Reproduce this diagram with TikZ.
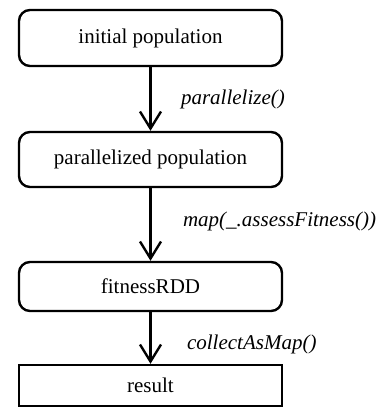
\documentclass[tikz,border=0pt]{standalone}
\usepackage{fontspec}
\setmainfont{Liberation Serif}
\usetikzlibrary{arrows.meta}
\begin{document}
\begin{tikzpicture}[x=1pt,y=-1pt,
  box/.style={draw,line width=2.4pt,minimum width=263pt,inner sep=0pt,font=\fontsize{21}{25}\selectfont},
  rbox/.style={box,rounded corners=11pt},
  flow/.style={line width=2.4pt,-{Straight Barb[length=17pt,width=21pt,line width=2.4pt]}},
  lbl/.style={font=\fontsize{21}{25}\selectfont\itshape,anchor=west}]
\useasboundingbox (0,0) rectangle (386,407);
\node[rbox,minimum height=56pt] (a) at (150.5,38) {initial population};
\node[rbox,minimum height=55pt] (b) at (150.5,159.5) {parallelized population};
\node[rbox,minimum height=49pt] (c) at (150.5,286.5) {fitnessRDD};
\node[box,minimum height=41pt] (d) at (150.5,385.5) {result};
\draw[flow] (a) -- (b) node[lbl,midway,xshift=26pt] {parallelize()};
\draw[flow] (b) -- (c) node[lbl,midway,xshift=28pt,yshift=3pt] {map(\_.assessFitness())};
\draw[flow] (c) -- (d) node[lbl,midway,xshift=32pt,yshift=-6pt] {collectAsMap()};
\end{tikzpicture}
\end{document}
